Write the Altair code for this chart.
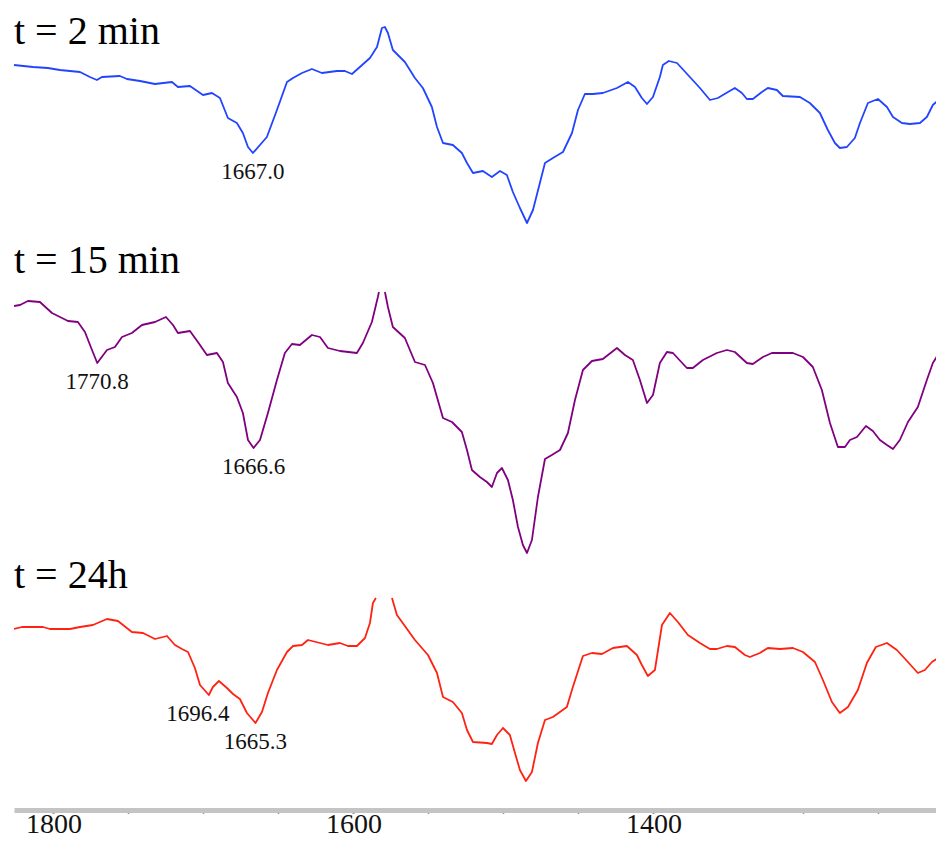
import altair as alt
import pandas as pd

# ---------------- data (wavenumber in cm-1, intensity in arbitrary units) ----------------
series_names = ["t = 2 min", "t = 15 min", "t = 24h"]
series_colors = ["#2244ff", "#800080", "#ff2211"]
series_offsets = [745, 504, 181]

wn_2min = [1826.3, 1813.7, 1803.7, 1795.7, 1782.3, 1775.7, 1771.0, 1767.7, 1755.7, 1751.0,
           1742.3, 1732.3, 1721.0, 1717.0, 1709.0, 1700.3, 1694.3, 1689.0, 1683.7, 1677.7,
           1673.7, 1670.3, 1667.0, 1657.7, 1651.0, 1644.3, 1640.3, 1634.3, 1627.7, 1621.0,
           1611.0, 1605.7, 1601.0, 1595.7, 1589.0, 1584.3, 1581.0, 1579.0, 1577.0, 1573.7,
           1565.7, 1559.0, 1553.7, 1547.7, 1544.3, 1540.3, 1533.7, 1527.7, 1524.3, 1520.3,
           1513.7, 1507.7, 1502.3, 1497.7, 1493.7, 1489.0, 1484.3, 1480.3, 1475.7, 1472.3,
           1467.0, 1460.3, 1454.3, 1450.3, 1445.7, 1440.3, 1433.7, 1424.3, 1417.0, 1412.3,
           1407.7, 1404.3, 1400.3, 1395.7, 1393.7, 1389.7, 1384.3, 1375.7, 1369.0, 1362.3,
           1357.0, 1350.3, 1345.7, 1341.0, 1337.7, 1333.7, 1327.7, 1323.7, 1317.7, 1313.7,
           1302.3, 1295.7, 1289.0, 1283.7, 1279.0, 1275.7, 1271.0, 1265.7, 1262.3, 1257.0,
           1250.3, 1244.3, 1240.3, 1234.3, 1229.0, 1222.3, 1217.7, 1213.7, 1207.0]
ab_2min = [0, -2, -3, -5, -7, -12, -15, -12, -11, -14,
           -16, -19, -17, -22, -21, -30, -28, -33, -53, -58,
           -68, -82, -88, -72, -45, -17, -13, -8, -4, -8,
           -6, -6, -9, -2, 7, 18, 37, 38, 32, 15,
           3, -13, -23, -42, -62, -78, -80, -88, -98, -108,
           -106, -112, -106, -110, -127, -143, -158, -145, -118, -98,
           -93, -87, -68, -45, -29, -29, -28, -23, -17, -22,
           -33, -39, -32, -12, 0, 4, 2, -12, -23, -35,
           -33, -27, -23, -28, -34, -34, -27, -23, -25, -31,
           -32, -38, -48, -65, -78, -83, -82, -73, -58, -38,
           -34, -42, -52, -58, -59, -58, -52, -40, -31]

# t = 15 min (the strong band near 1580 runs off the top of its panel: two parts)
wn_15min_a = [1826.3, 1822.3, 1817.0, 1809.0, 1801.0, 1790.3, 1783.7, 1779.0, 1774.3, 1770.8,
              1764.3, 1759.0, 1754.3, 1747.7, 1741.0, 1732.3, 1725.0, 1720.3, 1717.0, 1709.0,
              1703.7, 1697.7, 1691.0, 1687.0, 1683.7, 1677.7, 1673.7, 1670.3, 1666.6, 1662.3,
              1657.0, 1651.0, 1645.7, 1641.0, 1635.7, 1627.7, 1622.3, 1617.0, 1609.0, 1597.7,
              1593.7, 1587.7, 1583.7, 1583.0]
ab_15min_a = [0, 1, 5, 4, -7, -15, -16, -26, -44, -57,
              -44, -41, -31, -27, -19, -16, -11, -19, -27, -25,
              -36, -49, -47, -56, -77, -91, -107, -134, -142, -134,
              -107, -74, -47, -38, -39, -29, -31, -42, -45, -47,
              -37, -16, 9, 14]
wn_15min_b = [1579.0, 1577.0, 1573.7, 1565.7, 1559.0, 1552.3, 1547.0, 1540.3, 1534.3, 1527.7,
              1524.3, 1521.0, 1515.7, 1511.0, 1507.7, 1504.3, 1501.0, 1497.0, 1493.7, 1490.3,
              1487.0, 1484.3, 1481.0, 1477.0, 1472.3, 1467.7, 1462.3, 1457.0, 1452.3, 1447.0,
              1441.0, 1433.7, 1424.3, 1419.0, 1413.7, 1409.0, 1404.3, 1400.3, 1395.7, 1391.0,
              1387.0, 1377.7, 1373.7, 1367.0, 1357.7, 1351.0, 1345.7, 1337.7, 1333.7, 1327.0,
              1321.0, 1307.0, 1300.3, 1293.7, 1287.7, 1282.3, 1277.0, 1272.3, 1269.0, 1264.3,
              1258.3, 1253.7, 1249.0, 1244.3, 1240.3, 1235.7, 1230.3, 1223.7, 1217.7, 1213.7,
              1207.0]
ab_15min_b = [14, -1, -21, -32, -56, -59, -77, -112, -116, -126,
              -144, -164, -171, -176, -181, -167, -162, -174, -194, -221,
              -239, -247, -234, -191, -153, -149, -144, -127, -94, -64,
              -55, -53, -42, -49, -54, -74, -97, -89, -57, -46,
              -47, -62, -62, -54, -47, -44, -46, -57, -58, -51,
              -47, -47, -51, -61, -84, -117, -141, -141, -134, -131,
              -120, -125, -134, -139, -143, -134, -116, -101, -74, -57,
              -41]

# t = 24h (two parts as well)
wn_24h_a = [1826.3, 1821.0, 1807.0, 1802.3, 1789.0, 1782.3, 1773.7, 1764.3, 1757.0, 1747.7,
            1740.3, 1732.3, 1724.3, 1719.0, 1714.3, 1710.3, 1705.7, 1702.3, 1696.4, 1693.7,
            1689.7, 1684.3, 1680.3, 1675.7, 1671.0, 1665.3, 1661.0, 1657.0, 1651.0, 1644.3,
            1640.3, 1634.3, 1630.3, 1622.3, 1617.0, 1609.0, 1603.7, 1597.7, 1592.3, 1589.0,
            1587.0, 1585.0]
ab_24h_a = [0, 2, 2, 0, 0, 2, 4, 10, 8, -3,
            -4, -10, -7, -16, -20, -23, -39, -56, -66, -58,
            -52, -59, -65, -70, -84, -94, -83, -64, -41, -23,
            -17, -16, -11, -14, -16, -14, -17, -17, -9, 6,
            26, 31]
wn_24h_b = [1574.3, 1571.0, 1565.7, 1559.0, 1550.3, 1544.3, 1540.3, 1533.7, 1527.7, 1524.3,
            1520.3, 1511.0, 1507.7, 1504.3, 1500.3, 1495.7, 1492.3, 1489.0, 1485.0, 1481.0,
            1477.0, 1472.3, 1467.0, 1457.7, 1453.7, 1447.0, 1441.0, 1434.3, 1427.0, 1417.7,
            1411.0, 1407.7, 1403.7, 1399.0, 1394.3, 1389.0, 1383.7, 1377.0, 1369.0, 1362.3,
            1357.7, 1351.0, 1345.7, 1339.0, 1335.7, 1329.0, 1323.7, 1315.7, 1307.0, 1300.3,
            1292.3, 1287.0, 1281.0, 1275.7, 1270.3, 1263.7, 1257.7, 1251.7, 1244.3, 1237.7,
            1230.3, 1223.7, 1219.0, 1214.3, 1207.0]
ab_24h_b = [31, 14, 3, -11, -26, -44, -68, -73, -84, -101,
            -113, -114, -115, -106, -99, -106, -124, -141, -152, -143,
            -114, -91, -88, -78, -58, -27, -24, -25, -19, -17,
            -26, -36, -47, -41, 4, 16, 7, -6, -14, -20,
            -20, -17, -18, -26, -28, -24, -19, -20, -19, -23,
            -33, -51, -73, -84, -78, -61, -34, -18, -14, -21,
            -33, -44, -41, -33, -26]

peak_labels = ["1667.0", "1770.8", "1666.6", "1696.4", "1665.3"]
peak_series = ["t = 2 min", "t = 15 min", "t = 15 min", "t = 24h", "t = 24h"]

tick_values = [1800, 1750, 1700, 1650, 1600, 1550, 1500, 1450, 1400, 1300, 1250]
x_domain = [1826.3, 1211.6]

# ---------------- build tables ----------------
parts = [
    ("t = 2 min", "a", wn_2min, ab_2min),
    ("t = 15 min", "a", wn_15min_a, ab_15min_a),
    ("t = 15 min", "b", wn_15min_b, ab_15min_b),
    ("t = 24h", "a", wn_24h_a, ab_24h_a),
    ("t = 24h", "b", wn_24h_b, ab_24h_b),
]
offset_of = dict(zip(series_names, series_offsets))
rows = []
for name, part, wn, ab in parts:
    for w, a in zip(wn, ab):
        rows.append({"series": name, "part": name + part, "wn": w,
                     "y": a + offset_of[name]})
df = pd.DataFrame(rows)

lab_rows = []
for lab, s in zip(peak_labels, peak_series):
    v = float(lab)
    sub = df[df.series == s]
    idx = (sub.wn - v).abs().idxmin()
    lab_rows.append({"label": lab, "series": s, "wn": v, "y": sub.loc[idx, "y"]})
labels_df = pd.DataFrame(lab_rows)

x_scale = alt.Scale(domain=x_domain, nice=False, zero=False)
y_scale = alt.Scale(domain=[0, 800], nice=False, zero=False)

x_axis = alt.Axis(
    values=tick_values,
    labelExpr="datum.value % 200 == 0 ? datum.label : ''",
    format="d",
    title=None,
    grid=False,
    domainColor="#c4c4c4",
    domainWidth=5,
    tickColor="#222222",
    tickSize=3,
    tickWidth={"condition": {"test": "datum.value % 200 == 0", "value": 2}, "value": 1.5},
    labelFont="Liberation Serif",
    labelFontSize=28,
    labelColor="#111111",
    labelPadding=-3,
    labelOverlap=False,
    labelFlush=False,
    labelBound=False,
)

lines = alt.Chart(df).mark_line(strokeWidth=1.8, strokeJoin="round", clip=True).encode(
    x=alt.X("wn:Q", scale=x_scale, axis=x_axis),
    y=alt.Y("y:Q", scale=y_scale, axis=None),
    color=alt.Color("series:N", scale=alt.Scale(domain=series_names, range=series_colors),
                    legend=None),
    detail="part:N",
    order="wn:Q",
)

lab_main = alt.Chart(labels_df).transform_filter(
    "datum.label != '1696.4'"
).mark_text(font="Liberation Serif", fontSize=23, baseline="alphabetic",
            align="center", dy=26, color="#111111").encode(
    x=alt.X("wn:Q", scale=x_scale), y=alt.Y("y:Q", scale=y_scale), text="label:N")

lab_shift = alt.Chart(labels_df).transform_filter(
    "datum.label == '1696.4'"
).mark_text(font="Liberation Serif", fontSize=23, baseline="alphabetic",
            align="center", dy=26, dx=-11, color="#111111").encode(
    x=alt.X("wn:Q", scale=x_scale), y=alt.Y("y:Q", scale=y_scale), text="label:N")

title_y = {"t = 2 min": 34, "t = 15 min": 263, "t = 24h": 578}
titles = []
for name in series_names:
    titles.append(
        alt.Chart(pd.DataFrame({"t": [name]})).mark_text(
            font="Liberation Serif", fontSize=40, align="left", baseline="alphabetic",
            color="#000000").encode(text="t:N", x=alt.value(0), y=alt.value(title_y[name]))
    )

chart = alt.layer(lines, lab_main, lab_shift, *titles).properties(
    width=922, height=800,
    padding={"left": 6, "top": 2, "right": 0, "bottom": 28},
    autosize=alt.AutoSizeParams(type="none"),
).configure_view(stroke=None)

chart.save("out.html", embed_options={"renderer": "svg", "actions": False})
